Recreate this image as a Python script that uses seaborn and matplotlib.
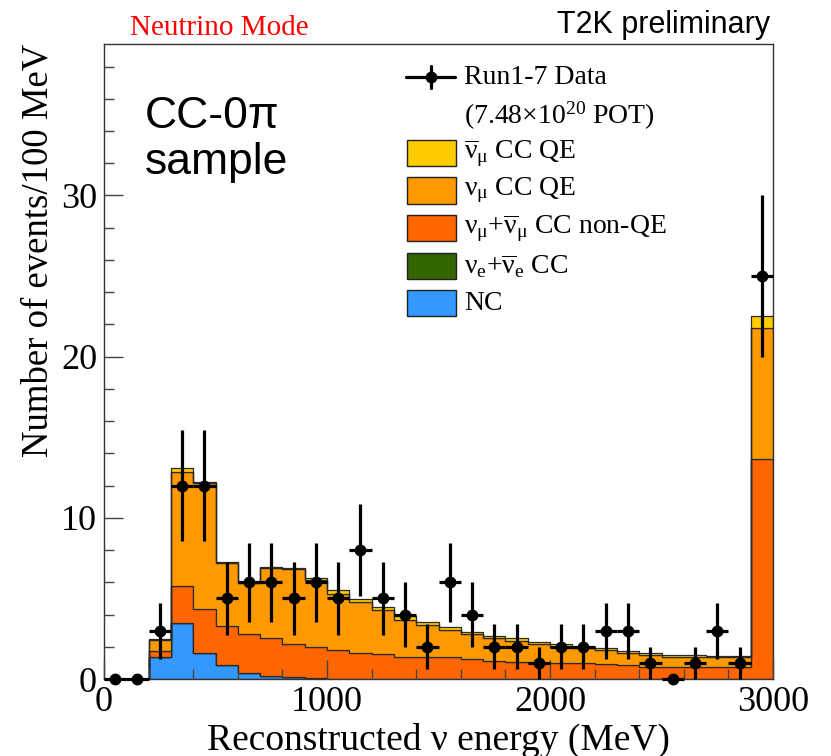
import numpy as np
import pandas as pd
import matplotlib
matplotlib.use("Agg")
import matplotlib.pyplot as plt
from matplotlib.patches import Rectangle
from matplotlib.lines import Line2D
from matplotlib.ticker import MultipleLocator
import seaborn as sns

# ------------------------------------------------------------------
# Data : reconstructed neutrino energy, 100 MeV bins, 0 - 3000 MeV
# ------------------------------------------------------------------
bin_edges = [0, 100, 200, 300, 400, 500, 600, 700, 800, 900, 1000,
             1100, 1200, 1300, 1400, 1500, 1600, 1700, 1800, 1900, 2000,
             2100, 2200, 2300, 2400, 2500, 2600, 2700, 2800, 2900, 3000]
bin_centers = [50, 150, 250, 350, 450, 550, 650, 750, 850, 950,
               1050, 1150, 1250, 1350, 1450, 1550, 1650, 1750, 1850, 1950,
               2050, 2150, 2250, 2350, 2450, 2550, 2650, 2750, 2850, 2950]

# Run1-7 data
data_counts = [0, 0, 3, 12, 12, 5, 6, 6, 5, 6,
               5, 8, 5, 4, 2, 6, 4, 2, 2, 1,
               2, 2, 3, 3, 1, 0, 1, 3, 1, 25]
data_err = [0, 0, 1.73, 3.46, 3.46, 2.24, 2.45, 2.45, 2.24, 2.45,
            2.24, 2.83, 2.24, 2.0, 1.41, 2.45, 2.0, 1.41, 1.41, 1.0,
            1.41, 1.41, 1.73, 1.73, 1.0, 0, 1.0, 1.73, 1.0, 5.0]

# MC prediction per component (events / 100 MeV)
mc_nc = [0, 0, 1.38, 3.46, 1.59, 0.87, 0.39, 0.19, 0.10, 0.05,
         0.03, 0.02, 0.01, 0.01, 0, 0, 0, 0, 0, 0,
         0, 0, 0, 0, 0, 0, 0, 0, 0, 0]
mc_nue = [0, 0, 0, 0, 0, 0, 0, 0, 0, 0,
          0, 0, 0, 0, 0, 0, 0, 0, 0, 0,
          0, 0, 0, 0, 0, 0, 0, 0, 0, 0]
mc_nonqe = [0, 0, 0.38, 2.33, 2.78, 2.42, 2.38, 2.38, 2.07, 1.95,
            1.77, 1.61, 1.52, 1.37, 1.34, 1.38, 1.24, 1.14, 1.08, 1.01,
            1.01, 0.97, 0.93, 0.89, 0.76, 0.76, 0.76, 0.72, 0.76, 13.64]
mc_numu_qe = [0, 0, 0.64, 7.08, 7.78, 3.91, 3.21, 4.33, 4.63, 4.14,
              3.47, 3.17, 2.75, 2.30, 2.01, 1.66, 1.53, 1.38, 1.28, 1.16,
              0.99, 0.93, 0.87, 0.74, 0.71, 0.62, 0.62, 0.62, 0.58, 8.13]
mc_numubar_qe = [0, 0, 0.06, 0.21, 0.10, 0.06, 0.06, 0.07, 0.10, 0.15,
                 0.25, 0.17, 0.21, 0.22, 0.21, 0.21, 0.17, 0.17, 0.16, 0.15,
                 0.15, 0.10, 0.10, 0.13, 0.12, 0.11, 0.11, 0.11, 0.11, 0.76]

component_names = ["numubar_qe", "numu_qe", "nonqe", "nue", "nc"]
component_labels = [r"$\overline{\mathrm{\nu}}_{\mathrm{\mu}}$ CC QE",
                    r"$\mathrm{\nu}_{\mathrm{\mu}}$ CC QE",
                    r"$\mathrm{\nu}_{\mathrm{\mu}}$+$\overline{\mathrm{\nu}}_{\mathrm{\mu}}$ CC non-QE",
                    r"$\mathrm{\nu}_{\mathrm{e}}$+$\overline{\mathrm{\nu}}_{\mathrm{e}}$ CC",
                    "NC"]
component_colors = ["#FFCC00", "#FF9900", "#FF6600", "#336600", "#3399FF"]


def BuildFrame():
    rows = []
    values = [mc_numubar_qe, mc_numu_qe, mc_nonqe, mc_nue, mc_nc]
    for name, vals in zip(component_names, values):
        for c, v in zip(bin_centers, vals):
            rows.append({"energy": c, "events": v, "component": name})
    return pd.DataFrame(rows)


def main():
    sns.set_style("ticks")
    plt.rcParams["font.family"] = ["Liberation Serif", "DejaVu Serif"]
    plt.rcParams["mathtext.fontset"] = "custom"
    plt.rcParams["mathtext.rm"] = "Liberation Serif"
    plt.rcParams["mathtext.it"] = "Liberation Serif:italic"
    plt.rcParams["text.color"] = "black"
    plt.rcParams["axes.labelcolor"] = "black"
    plt.rcParams["xtick.labelcolor"] = "black"
    plt.rcParams["ytick.labelcolor"] = "black"

    W, H = 831, 756
    fig = plt.figure(figsize=(W / 100, H / 100), dpi=100)
    ax = fig.add_axes([104 / W, 1 - 679 / H, 669 / W, 635 / H])

    df = BuildFrame()
    palette = dict(zip(component_names, component_colors))
    sns.histplot(data=df, x="energy", weights="events", hue="component",
                 hue_order=component_names, palette=palette,
                 multiple="stack", element="step", fill=True,
                 bins=bin_edges, alpha=1, linewidth=0.9,
                 edgecolor="#2a2a2a", legend=False, ax=ax)

    # data points with stat. errors
    ax.errorbar(bin_centers, data_counts, yerr=data_err, xerr=50,
                fmt="o", color="black", ms=7.5, elinewidth=2.3,
                capsize=0, zorder=5, clip_on=False)

    ax.set_xlim(0, 3000)
    ax.set_ylim(0, 39.4)
    ax.xaxis.set_major_locator(MultipleLocator(1000))
    ax.xaxis.set_minor_locator(MultipleLocator(200))
    ax.yaxis.set_major_locator(MultipleLocator(10))
    ax.yaxis.set_minor_locator(MultipleLocator(2))
    ax.tick_params(which="both", direction="in", top=False, right=False,
                   width=1, color="#444444", labelsize=26, pad=5,
                   labelcolor="black")
    ax.tick_params(which="major", length=14)
    ax.tick_params(which="minor", length=7)
    for s in ax.spines.values():
        s.set_color("#333333")
        s.set_linewidth(1.0)
    ax.set_axisbelow(False)

    ax.set_xlabel("Reconstructed ν energy (MeV)", fontsize=27, labelpad=3,
                  color="black")
    ax.set_ylabel("Number of events/100 MeV", fontsize=26.5, loc="top",
                  color="black")
    ax.yaxis.set_label_coords(-0.072, 1.0)

    # top texts
    fig.text(130 / W, 1 - 35 / H, "Neutrino Mode", color="red",
             fontsize=21, va="baseline", ha="left")
    fig.text(770 / W, 1 - 33 / H, "T2K preliminary", color="black",
             fontsize=22, va="baseline", ha="right",
             family=["Liberation Sans", "DejaVu Sans"])
    fig.text(145 / W, 1 - 128 / H, "CC-0π", fontsize=32, va="baseline",
             ha="left", color="black", family=["Liberation Sans", "DejaVu Sans"])
    fig.text(145 / W, 1 - 174 / H, "sample", fontsize=32, va="baseline",
             ha="left", color="black", family=["Liberation Sans", "DejaVu Sans"])

    # legend (drawn by hand, ROOT style)
    fig.add_artist(Line2D([406 / W, 455 / W], [1 - 77 / H, 1 - 77 / H],
                          color="black", lw=2.3))
    fig.add_artist(Line2D([430.5 / W, 430.5 / W], [1 - 66 / H, 1 - 88 / H],
                          color="black", lw=2.3))
    fig.add_artist(Line2D([430.5 / W], [1 - 77 / H], marker="o", ms=7.5,
                          color="black", lw=0))
    fig.text(464 / W, 1 - 77 / H, "Run1-7 Data", fontsize=20,
             va="center", ha="left", color="black")
    fig.text(464 / W, 1 - 116 / H, r"(7.48×10$^{20}$ POT)", fontsize=20,
             va="center", ha="left", color="black")
    row_y = [153, 190.5, 228, 266, 303]
    for y, lab, col in zip(row_y, component_labels, component_colors):
        fig.add_artist(Rectangle((406.5 / W, 1 - (y + 13) / H), 49 / W, 26 / H,
                                 facecolor=col, edgecolor="#222222", lw=1,
                                 transform=fig.transFigure))
        fig.text(464 / W, 1 - y / H, lab, fontsize=20, va="center",
                 ha="left", color="black")

    fig.savefig("out.png", dpi=100)


if __name__ == "__main__":
    main()
